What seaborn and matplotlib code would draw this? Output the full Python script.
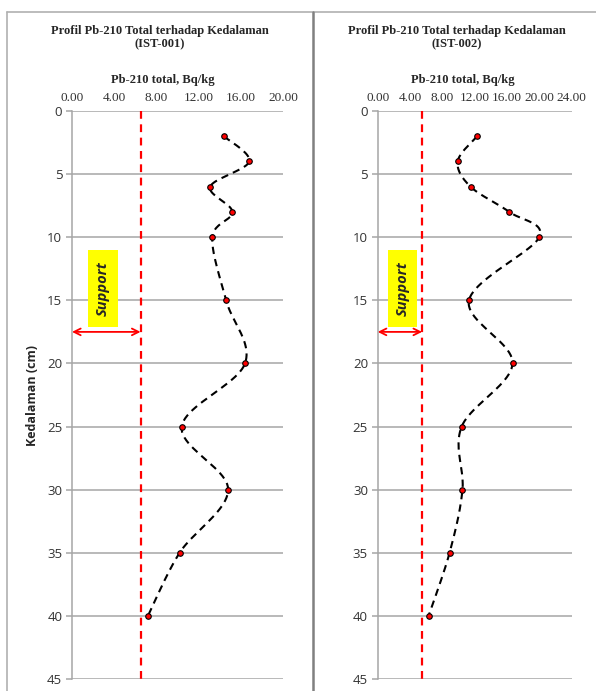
import matplotlib
matplotlib.use("Agg")
import matplotlib.pyplot as plt
from matplotlib.lines import Line2D
from matplotlib.patches import Rectangle
import numpy as np
import pandas as pd
import seaborn as sns

# data
depth = [2, 4, 6, 8, 10, 15, 20, 25, 30, 35, 40]
pb_ist001 = [14.4, 16.8, 13.1, 15.2, 13.3, 14.6, 16.4, 10.4, 14.8, 10.2, 7.2]
pb_ist002 = [12.3, 9.9, 11.5, 16.3, 20.0, 11.3, 16.7, 10.4, 10.5, 8.9, 6.3]
support = [6.5, 5.5]
x_max = [20, 24]
x_ticks = [[0, 4, 8, 12, 16, 20], [0, 4, 8, 12, 16, 20, 24]]
y_ticks = [0, 5, 10, 15, 20, 25, 30, 35, 40, 45]
stations = ["IST-001", "IST-002"]
title_text = "Profil Pb-210 Total terhadap Kedalaman"
xlabel_text = "Pb-210 total, Bq/kg"
ylabel_text = "Kedalaman (cm)"

sns.set_style("white")
plt.rcParams["font.family"] = ["Liberation Serif", "DejaVu Serif"]
SANS = ["Open Sans", "DejaVu Sans"]

df = pd.DataFrame({
    "depth": depth * 2,
    "pb": pb_ist001 + pb_ist002,
    "station": [stations[0]] * len(depth) + [stations[1]] * len(depth),
})

fig = plt.figure(figsize=(5.96, 6.91), dpi=100)
W, H = 596.0, 691.0

# axes placement in pixels: (left, right), title / xlabel centres
panels = [(72, 283), (377.7, 571.5)]
title_cx = [160, 457]
xlabel_cx = [163, 463]
ax_top, ax_bot = 111, 679


def smooth_line(ax, xs, ys, n=24):
    # Excel-style smoothed line (Catmull-Rom in screen space)
    pts = ax.transData.transform(np.column_stack([xs, ys]))
    P = np.vstack([pts[0], pts, pts[-1]])
    out = []
    for i in range(1, len(P) - 2):
        p0, p1, p2, p3 = P[i - 1], P[i], P[i + 1], P[i + 2]
        b1 = p1 + (p2 - p0) / 6.0
        b2 = p2 - (p3 - p1) / 6.0
        t = np.linspace(0, 1, n)[:, None]
        seg = ((1 - t) ** 3) * p1 + 3 * ((1 - t) ** 2) * t * b1 + 3 * (1 - t) * t ** 2 * b2 + t ** 3 * p2
        out.append(seg)
    out = np.vstack(out)
    return ax.transData.inverted().transform(out)


for k, st in enumerate(stations):
    l, r = panels[k]
    ax = fig.add_axes([l / W, 1 - ax_bot / H, (r - l) / W, (ax_bot - ax_top) / H])
    sub = df[df["station"] == st]

    ax.set_xlim(0, x_max[k])
    ax.set_ylim(45, 0)

    ax.set_yticks(y_ticks)
    ax.grid(axis="y", color="#a6a6a6", lw=1.1)
    ax.grid(axis="x", visible=False)
    ax.set_axisbelow(True)
    for s in ["top", "right", "bottom"]:
        ax.spines[s].set_visible(False)
    ax.spines["left"].set_color("#a6a6a6")
    ax.spines["left"].set_linewidth(1.1)

    ax.xaxis.tick_top()
    ax.set_xticks(x_ticks[k])
    ax.set_xticklabels(["%.2f" % v for v in x_ticks[k]], fontsize=9.5, color="#333333")
    ax.tick_params(axis="x", length=0, pad=5)
    ax.tick_params(axis="y", length=4, width=1.1, color="#a6a6a6", left=True,
                   labelsize=9.5, labelcolor="#333333", pad=3)
    for t in ax.get_yticklabels():
        t.set_family(SANS)

    # support line
    ax.plot([support[k], support[k]], [0, 45], color="#ff0000", lw=1.6,
            dashes=(3.5, 2.5), zorder=2)

    # smoothed profile
    curve = smooth_line(ax, sub["pb"].values, sub["depth"].values)
    ax.plot(curve[:, 0], curve[:, 1], color="black", lw=1.5, dashes=(3.5, 2.5), zorder=3)
    sns.scatterplot(data=sub, x="pb", y="depth", ax=ax, color="#ff0000",
                    edgecolor="black", linewidth=0.8, s=16, zorder=4, legend=False)
    ax.set_xlabel("")
    ax.set_ylabel("")

    # support annotation
    ax.annotate("", xy=(0, 17.5), xytext=(support[k], 17.5),
                arrowprops=dict(arrowstyle="<->", color="#ff0000", lw=1.3,
                                shrinkA=0, shrinkB=0, mutation_scale=12))
    box_x0 = [1.5, 1.25][k]
    box_x1 = [4.4, 4.9][k]
    ax.add_patch(Rectangle((box_x0, 11.0), box_x1 - box_x0, 6.1,
                           facecolor="#ffff00", edgecolor="none", zorder=2))
    ax.text((box_x0 + box_x1) / 2, 14.05, "Support", rotation=90, ha="center",
            va="center", fontsize=10.5, fontweight="bold", fontstyle="italic",
            family=SANS, zorder=3)

    fig.text(title_cx[k] / W, 1 - 31 / H, title_text, ha="center", va="center",
             fontsize=9, fontweight="bold")
    fig.text(title_cx[k] / W, 1 - 44 / H, "(%s)" % st, ha="center", va="center",
             fontsize=9, fontweight="bold")
    fig.text(xlabel_cx[k] / W, 1 - 80 / H, xlabel_text, ha="center", va="center",
             fontsize=9, fontweight="bold")

fig.text(33 / W, 1 - 395 / H, ylabel_text, rotation=90, ha="center", va="center",
         fontsize=9, fontweight="bold", family=SANS)

# page frame
fig.add_artist(Line2D([7 / W, 1], [1 - 12 / H, 1 - 12 / H], color="#b0b0b0", lw=1.2))
fig.add_artist(Line2D([7 / W, 7 / W], [0, 1 - 12 / H], color="#b0b0b0", lw=1.2))
fig.add_artist(Line2D([312.7 / W, 312.7 / W], [0, 1 - 12 / H], color="#808080", lw=1.8))

fig.savefig("out.png", dpi=100)
plt.close()
